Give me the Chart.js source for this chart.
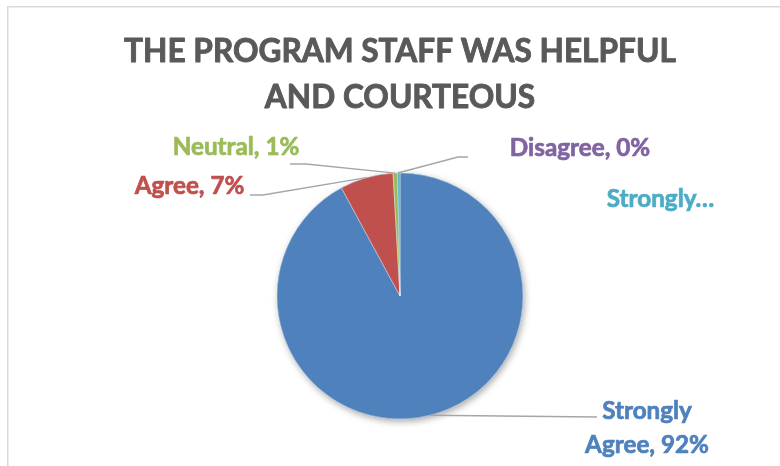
<!DOCTYPE html>
<html>
<head>
<meta charset="utf-8">
<script src="https://cdn.jsdelivr.net/npm/chart.js@4.4.0/dist/chart.umd.min.js"></script>
<style>
html, body { margin: 0; padding: 0; background: #fff; }
</style>
</head>
<body>
<canvas id="pie" width="780" height="466"></canvas>
<script>
// data (percent of answers)
var categories = ["Strongly Agree", "Agree", "Neutral", "Disagree", "Strongly Disagree"];
var values = [92.1, 7.0, 0.6, 0, 0.3];
var colors = ["#4F81BD", "#C0504D", "#9BBB59", "#8064A2", "#4BACC6"];
var titleLines = ["THE PROGRAM STAFF WAS HELPFUL", "AND COURTEOUS"];

// where Excel put each data label (text centre x, baselines, wanted width) and the leader elbows
var labelLayout = [
	{x: 647, y: [419, 453], w: 122, mode: 'wrap', line: [[597, 417]]},
	{x: 189.5, y: [194], w: 109, mode: 'one', line: [[250, 195], [263, 195]]},
	{x: 236, y: [155], w: 128, mode: 'one', line: [[290, 164], [306, 164]]},
	{x: 580, y: [156], w: 140, mode: 'one', line: [[468, 157], [458, 157]]},
	{x: 660.5, y: [207], w: 109, mode: 'cut', line: null}
];

var fontFamily = 'Lato, "Open Sans", sans-serif';

function fitSize(ctx, text, width) {
	ctx.font = 'bold 100px ' + fontFamily;
	return 100 * width / ctx.measureText(text).width;
}

function labelText(i, total) {
	var pct = Math.round(values[i] / total * 100) + '%';
	var name = categories[i];
	var mode = labelLayout[i].mode;
	if (mode == 'wrap') {
		var words = name.split(' ');
		return [words[0], words.slice(1).join(' ') + ', ' + pct];
	}
	if (mode == 'cut') return [name.split(' ')[0] + '\u2026'];
	return [name + ', ' + pct];
}

// bold text, a little heavier so it looks like Calibri bold
function heavyText(c, t, x, y, col, w) {
	c.fillStyle = col;
	c.strokeStyle = col;
	c.lineWidth = w;
	c.lineJoin = 'round';
	c.strokeText(t, x, y);
	c.fillText(t, x, y);
}

var frame = {
	id: 'frame',
	beforeDraw: function(chart) {
		var c = chart.ctx;
		c.save();
		c.strokeStyle = '#D9D9D9';
		c.lineWidth = 1.5;
		c.strokeRect(7.75, 6.75, 800, 500);
		c.restore();
	}
};

var shadow = {
	id: 'shadow',
	beforeDatasetsDraw: function(chart) {
		var arc = chart.getDatasetMeta(0).data[0];
		var c = chart.ctx;
		c.save();
		c.shadowColor = 'rgba(0,0,0,0.35)';
		c.shadowBlur = 7;
		c.shadowOffsetX = 1.5;
		c.shadowOffsetY = 2.5;
		c.fillStyle = colors[0];
		c.beginPath();
		c.arc(arc.x, arc.y, arc.outerRadius, 0, Math.PI * 2);
		c.fill();
		c.restore();
	}
};

var texts = {
	id: 'texts',
	afterDraw: function(chart) {
		var c = chart.ctx;
		var meta = chart.getDatasetMeta(0);
		var total = values.reduce(function(a, b) { return a + b; }, 0);

		// title
		c.save();
		var ts = fitSize(c, titleLines[0], 552);
		c.font = 'bold ' + ts + 'px ' + fontFamily;
		c.textAlign = 'center';
		c.textBaseline = 'alphabetic';
		heavyText(c, titleLines[0], 400, 62, '#595959', 0.9);
		heavyText(c, titleLines[1], 400, 108, '#595959', 0.9);
		c.restore();

		// one font size for all data labels
		var sizes = [];
		labelLayout.forEach(function(l, i) {
			var t = labelText(i, total);
			sizes.push(fitSize(c, t[t.length - 1], l.w));
		});
		var ls = sizes.reduce(function(a, b) { return a + b; }, 0) / sizes.length;

		labelLayout.forEach(function(l, i) {
			var el = meta.data[i];
			var p = el.getProps(['x', 'y', 'startAngle', 'endAngle', 'outerRadius'], true);
			var mid = (p.startAngle + p.endAngle) / 2;
			var ax = p.x + Math.cos(mid) * p.outerRadius;
			var ay = p.y + Math.sin(mid) * p.outerRadius;
			c.save();
			if (l.line) {
				c.strokeStyle = '#A6A6A6';
				c.lineWidth = 1.4;
				c.beginPath();
				c.moveTo(l.line[0][0], l.line[0][1]);
				for (var k = 1; k < l.line.length; k++) c.lineTo(l.line[k][0], l.line[k][1]);
				c.lineTo(ax, ay);
				c.stroke();
			}
			c.font = 'bold ' + ls + 'px ' + fontFamily;
			c.textAlign = 'center';
			c.textBaseline = 'alphabetic';
			labelText(i, total).forEach(function(t, j) {
				heavyText(c, t, l.x, l.y[j], colors[i], 0.7);
			});
			c.restore();
		});
	}
};

var pie = new Chart(document.getElementById('pie').getContext('2d'), {
	type: 'pie',
	data: {
		labels: categories,
		datasets: [{
			data: values,
			backgroundColor: colors,
			borderColor: '#FFFFFF',
			borderWidth: 0.4,
			radius: 123
		}]
	},
	options: {
		responsive: false,
		animation: false,
		layout: {
			padding: {left: 20, top: 126, right: 0, bottom: 0}
		},
		plugins: {
			legend: {display: false},
			tooltip: {enabled: false},
			title: {display: false}
		}
	},
	plugins: [frame, shadow, texts]
});
</script>
</body>
</html>
